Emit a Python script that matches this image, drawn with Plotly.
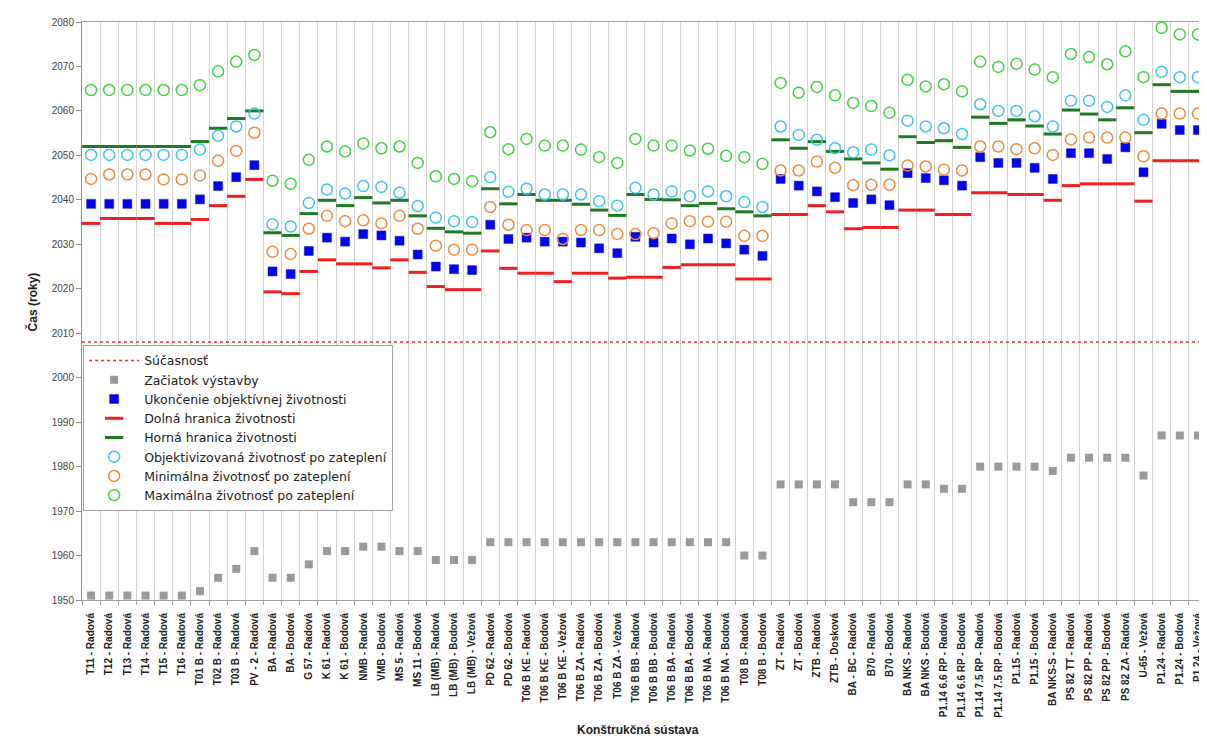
import plotly.graph_objects as go

categories = ["T11 - Radová","T12 - Radová","T13 - Radová","T14 - Radová","T15 - Radová","T16 - Radová",
    "T01 B - Radová","T02 B - Radová","T03 B - Radová","PV - 2 - Radová","BA - Radová","BA - Bodová",
    "G 57 - Radová","K 61 - Radová","K 61 - Bodová","NMB - Radová","VMB - Bodová","MS 5 - Radová",
    "MS 11 - Bodová","LB (MB) - Radová","LB (MB) - Bodová","LB (MB) - Vežová","PD 62 - Radová","PD 62 - Bodová",
    "T06 B KE - Radová","T06 B KE - Bodová","T06 B KE - Vežová","T06 B ZA - Radová","T06 B ZA - Bodová","T06 B ZA - Vežová",
    "T06 B BB - Radová","T06 B BB - Bodová","T06 B BA - Radová","T06 B BA - Bodová","T06 B NA - Radová","T06 B NA - Bodová",
    "T08 B - Radová","T08 B - Bodová","ZT - Radová","ZT - Bodová","ZTB - Radová","ZTB - Dosková",
    "BA - BC - Radová","B70 - Radová","B70 - Bodová","BA NKS - Radová","BA NKS - Bodová",
    "P1.14 6.6 RP - Radová","P1.14 6.6 RP - Bodová","P1.14 7.5 RP - Radová","P1.14 7.5 RP - Bodová",
    "P1.15 - Radová","P1.15 - Bodová","BA NKS-S - Radová","PS 82 TT - Radová","PS 82 PP - Radová",
    "PS 82 PP - Bodová","PS 82 ZA - Radová","U-65 - Vežová","P1.24 - Radová","P1.24 - Bodová","P1.24 - Vežová"]

sucasnost = 2008

zaciatok_vystavby = [1951,1951,1951,1951,1951,1951,1952,1955,1957,1961,1955,1955,1958,1961,1961,1962,1962,1961,1961,
    1959,1959,1959,1963,1963,1963,1963,1963,1963,1963,1963,1963,1963,1963,1963,1963,1963,1960,1960,
    1976,1976,1976,1976,1972,1972,1972,1976,1976,1975,1975,1980,1980,1980,1980,1979,1982,1982,1982,1982,1978,
    1987,1987,1987]

ukoncenie = [2039.1,2039.1,2039.1,2039.1,2039.1,2039.1,2040.1,2043.1,2045.1,2047.8,2023.9,2023.3,2028.5,2031.5,
    2030.6,2032.3,2032.0,2030.8,2027.7,2025.0,2024.4,2024.2,2034.4,2031.2,2031.5,2030.6,2030.6,2030.4,2029.1,
    2028.0,2031.7,2030.4,2031.3,2030.0,2031.3,2030.2,2028.8,2027.4,2044.7,2043.2,2041.9,2040.6,2039.3,2040.1,
    2038.8,2046.0,2044.9,2044.4,2043.2,2049.6,2048.3,2048.3,2047.2,2044.7,2050.5,2050.5,2049.2,2051.8,2046.2,
    2057.1,2055.7,2055.7]

dolna_hranica = [2034.7,2035.8,2035.8,2035.8,2034.7,2034.7,2035.6,2038.7,2040.8,2044.6,2019.3,2018.9,2023.9,
    2026.5,2025.6,2025.6,2024.7,2026.5,2023.7,2020.5,2019.8,2019.8,2028.5,2024.6,2023.5,2023.5,2021.6,2023.5,
    2023.5,2022.4,2022.6,2022.6,2024.8,2025.4,2025.4,2025.4,2022.2,2022.2,2036.7,2036.7,2038.7,2037.3,2033.5,
    2033.8,2033.8,2037.7,2037.7,2036.7,2036.7,2041.6,2041.6,2041.2,2041.2,2039.9,2043.2,2043.6,2043.6,2043.6,
    2039.7,2048.8,2048.8,2048.8]

horna_hranica = [2052.0,2052.0,2052.0,2052.0,2052.0,2052.0,2053.1,2056.1,2058.3,2060.0,2032.6,2032.0,2036.9,
    2039.9,2038.7,2040.5,2039.3,2039.9,2036.4,2033.6,2032.8,2032.5,2042.5,2039.1,2041.2,2039.9,2039.9,2039.0,
    2037.7,2036.5,2041.2,2040.1,2040.0,2038.7,2039.2,2038.0,2037.3,2036.4,2053.5,2051.6,2053.1,2050.9,2049.2,
    2048.3,2046.9,2054.2,2052.9,2053.3,2051.8,2058.6,2057.2,2058.0,2056.6,2054.8,2060.2,2059.3,2058.0,2060.7,
    2055.1,2065.9,2064.4,2064.4]

objektivizovana = [2050.1,2050.1,2050.1,2050.1,2050.1,2050.1,2051.3,2054.4,2056.5,2059.4,2034.5,2034.0,2039.3,
    2042.3,2041.4,2043.1,2042.9,2041.6,2038.6,2036.0,2035.2,2035.0,2045.1,2041.8,2042.5,2041.2,2041.2,2041.2,
    2039.7,2038.7,2042.7,2041.2,2041.9,2040.8,2041.9,2040.8,2039.5,2038.4,2056.5,2054.6,2053.5,2051.6,2050.7,
    2051.3,2050.0,2057.8,2056.5,2056.1,2054.8,2061.5,2060.0,2060.0,2058.8,2056.5,2062.3,2062.3,2060.9,2063.5,
    2058.0,2068.8,2067.6,2067.6]

minimalna = [2044.7,2045.7,2045.7,2045.7,2044.6,2044.6,2045.5,2048.8,2051.0,2055.1,2028.3,2027.8,2033.5,2036.4,
    2035.2,2035.4,2034.7,2036.4,2033.5,2029.7,2028.8,2028.8,2038.4,2034.4,2033.2,2033.2,2031.2,2033.2,2033.2,
    2032.3,2032.3,2032.5,2034.7,2035.2,2035.1,2035.1,2031.9,2031.9,2046.6,2046.6,2048.6,2047.2,2043.3,2043.4,
    2043.4,2047.7,2047.5,2046.8,2046.6,2052.0,2052.0,2051.4,2051.6,2050.1,2053.6,2054.0,2054.0,2054.0,2049.8,
    2059.4,2059.4,2059.4]

maximalna = [2064.7,2064.7,2064.7,2064.7,2064.7,2064.7,2065.8,2068.9,2071.1,2072.6,2044.3,2043.6,2049.0,2052.0,
    2050.9,2052.7,2051.6,2052.0,2048.3,2045.3,2044.7,2044.2,2055.2,2051.4,2053.7,2052.2,2052.2,2051.3,2049.6,
    2048.3,2053.7,2052.2,2052.2,2051.1,2051.5,2049.9,2049.6,2048.1,2066.3,2064.1,2065.4,2063.5,2061.8,2061.1,
    2059.6,2067.0,2065.5,2066.0,2064.4,2071.1,2069.9,2070.6,2069.3,2067.6,2072.8,2072.1,2070.5,2073.4,2067.6,
    2078.7,2077.2,2077.2]

y_ticks = list(range(1950, 2081, 10))

title_text = ("Porovnanie životnosti podľa konštrukčného riešenia a realizácie "
              "(stanovenie doby výdrže sústav)")

x = list(range(len(categories)))
FONT = "Arial, Liberation Sans, sans-serif"

fig = go.Figure()
fig.add_trace(go.Scatter(x=[-0.5, len(categories) - 0.5], y=[sucasnost, sucasnost], mode="lines",
                         name="Súčasnosť", line=dict(color="#e8322a", width=1.5, dash="3px,3px")))
fig.add_trace(go.Scatter(x=x, y=zaciatok_vystavby, mode="markers", name="Začiatok výstavby",
                         marker=dict(symbol="square", size=8, color="#9a9a9a")))
fig.add_trace(go.Scatter(x=x, y=ukoncenie, mode="markers", name="Ukončenie objektívnej životnosti",
                         marker=dict(symbol="square", size=9, color="#0000ff", line=dict(color="#2020c0", width=0.5))))
fig.add_trace(go.Scatter(x=x, y=dolna_hranica, mode="markers", name="Dolná hranica životnosti",
                         marker=dict(symbol="line-ew", size=13, line=dict(color="#f01e1e", width=3))))
fig.add_trace(go.Scatter(x=x, y=horna_hranica, mode="markers", name="Horná hranica životnosti",
                         marker=dict(symbol="line-ew", size=13, line=dict(color="#1f7a1f", width=3))))
fig.add_trace(go.Scatter(x=x, y=objektivizovana, mode="markers", name="Objektivizovaná životnosť po zateplení",
                         marker=dict(symbol="circle-open", size=11, color="#3cc4ee", line=dict(width=1.5))))
fig.add_trace(go.Scatter(x=x, y=minimalna, mode="markers", name="Minimálna životnosť po zateplení",
                         marker=dict(symbol="circle-open", size=11, color="#ef8a3c", line=dict(width=1.5))))
fig.add_trace(go.Scatter(x=x, y=maximalna, mode="markers", name="Maximálna životnosť po zateplení",
                         marker=dict(symbol="circle-open", size=11, color="#3fd43f", line=dict(width=1.5))))

fig.update_layout(
    width=1207, height=739,
    margin=dict(l=74, r=8, t=10, b=147),
    paper_bgcolor="white", plot_bgcolor="white",
    font=dict(family=FONT, color="#333333"),
    showlegend=True,
    legend=dict(x=0.001, y=0.4415, xanchor="left", yanchor="top", bgcolor="white",
                bordercolor="#a0a0a0", borderwidth=1,
                font=dict(size=12.5, family="DejaVu Sans, Arial, sans-serif", color="#222222"),
                itemwidth=50, tracegroupgap=0),
    xaxis=dict(range=[-0.5, len(categories) - 0.5], tickmode="array", tickvals=x, ticktext=categories,
               tickangle=-90, tickfont=dict(size=10, family=FONT, color="#222222", weight="bold"),
               showgrid=False, ticks="", ticklabelstandoff=8, zeroline=False,
               showline=True, linecolor="#a0a0a0", linewidth=1, mirror=True,
               minor=dict(tick0=0.5, dtick=1, showgrid=True, gridcolor="#d2d2d2", gridwidth=1,
                          ticks="outside", ticklen=4, tickcolor="#a0a0a0")),
    yaxis=dict(range=[1950, 2080], tickmode="array", tickvals=y_ticks, showgrid=False, zeroline=False,
               ticks="outside", ticklen=5, tickcolor="#909090", showline=True, linecolor="#909090",
               tickfont=dict(size=10, family=FONT, color="#444444")),
    annotations=[
        dict(text="<b>Konštrukčná sústava</b>", xref="paper", yref="paper", x=0.494, y=-0.2251,
             xanchor="center", yanchor="middle", showarrow=False, font=dict(size=12, family=FONT, color="#222222")),
        dict(text="<b>Čas (roky)</b>", xref="paper", yref="paper", x=-0.0444, y=0.515, textangle=-90,
             xanchor="center", yanchor="middle", showarrow=False, font=dict(size=12, family=FONT, color="#222222")),
        dict(text=title_text, xref="paper", yref="paper", x=0.0693, y=1.0225, xanchor="left", yanchor="bottom",
             showarrow=False, font=dict(size=16, family=FONT, color="#000000")),
    ],
)

fig.write_html("out.html")
